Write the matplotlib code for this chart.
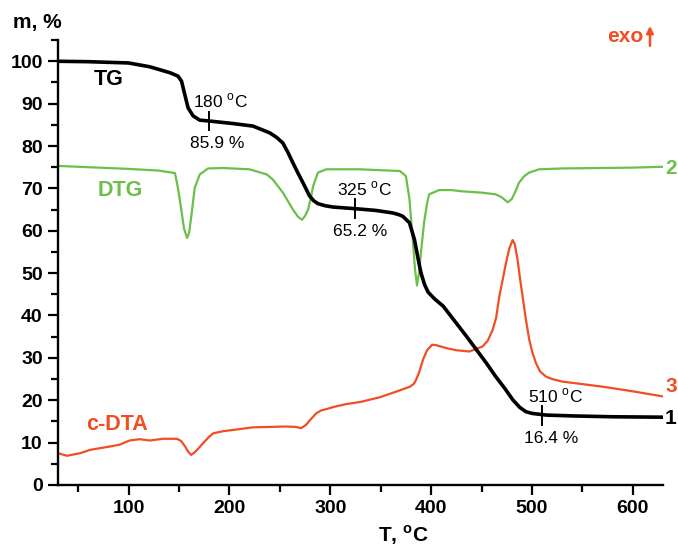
import numpy as np
import matplotlib.pyplot as plt
from matplotlib.ticker import MultipleLocator

plt.rcParams['font.family'] = ['Liberation Sans', 'DejaVu Sans']

# TG curve (mass, %)
tg_t = [30, 60, 100, 121, 141, 149, 152.5, 155.7, 159, 164, 170.6, 180, 203.6, 223.4, 240, 247,
        253, 258, 263, 268, 273, 279.5, 283.5, 287.7, 295, 302.6, 325, 345, 362, 368, 372,
        378.5, 383.5, 387, 390, 393.5, 397, 404, 412, 423, 435, 445, 455, 464, 473, 481,
        488, 494, 500, 514, 540, 580, 630]
tg_m = [100, 99.9, 99.6, 98.7, 97.3, 96.5, 95.3, 92.2, 89.0, 87.1, 86.1, 85.9, 85.3, 84.7, 83.1, 82.0,
        80.7, 78.5, 76.0, 73.6, 71.3, 68.2, 67.1, 66.4, 65.9, 65.6, 65.2, 64.8, 64.2, 63.8, 63.4,
        61.9, 57.9, 53.5, 50.0, 47.3, 45.5, 43.8, 42.2, 38.8, 35.1, 31.9, 28.7, 25.6, 22.8, 20.1,
        18.3, 17.3, 16.9, 16.5, 16.3, 16.1, 16.0]

# DTG curve (scaled)
dtg_t = [30, 60, 100, 130, 146, 149, 152.5, 155, 158, 160, 162.4, 165.6, 170.6, 178.8, 194, 220,
         237, 243, 253, 263, 268, 272, 275, 278, 280.5, 283, 287.7, 296, 329, 369, 375,
         378.5, 381.8, 384, 386, 388, 390, 393, 396, 398, 408, 420, 431, 450, 464, 470,
         476, 480, 484, 487, 492, 497, 507, 530, 600, 630]
dtg_v = [75.3, 75.0, 74.6, 74.2, 73.6, 70.1, 64.6, 60.5, 58.3, 59.5, 63.8, 70.1, 73.3, 74.7, 74.8, 74.5,
         73.3, 72.1, 69.0, 65.0, 63.3, 62.6, 63.5, 65.0, 67.5, 70.5, 73.7, 74.5, 74.5, 74.1, 72.9,
         67.5, 57.9, 51.0, 47.1, 50.0, 55.0, 61.9, 66.5, 68.6, 69.6, 69.6, 69.3, 69.0, 68.6, 67.9,
         66.7, 67.5, 69.5, 71.3, 72.8, 73.7, 74.5, 74.7, 74.9, 75.1]

# c-DTA curve (scaled)
dta_t = [30, 39, 52, 62, 82, 91, 101, 111, 121, 134, 148, 152, 156, 159, 162, 165, 168, 174, 180,
         184, 194, 204, 223, 256, 266, 271, 276, 281, 286, 291, 296, 303, 316, 330, 349, 365, 379,
         383, 385, 388, 392, 396, 401, 405, 415, 425, 438, 451, 456, 461, 464.5, 467.6, 471,
         474.2, 477.5, 480.8, 483, 485.7, 488, 490.7, 494, 497.3, 500.5, 503.9, 508, 513.8,
         520, 530, 547, 573, 600, 630]
dta_v = [7.5, 6.9, 7.5, 8.3, 9.1, 9.5, 10.5, 10.8, 10.5, 10.9, 10.9, 10.4, 9.1, 7.9, 7.1, 7.6, 8.3, 9.9, 11.4,
         12.2, 12.7, 13.0, 13.6, 13.8, 13.7, 13.4, 14.2, 15.6, 16.9, 17.6, 17.9, 18.4, 19.1, 19.6, 20.7, 22.0, 23.2,
         23.9, 24.8, 26.5, 29.6, 31.8, 33.1, 33.0, 32.3, 31.8, 31.5, 32.7, 34.0, 36.6, 39.5, 44.5, 48.5,
         52.4, 55.8, 57.8, 56.8, 53.2, 49.0, 44.5, 39.0, 34.3, 31.2, 28.8, 26.8, 25.6,
         25.0, 24.4, 23.9, 23.1, 22.1, 20.9]

# marked points on TG
mark_t = [180, 325, 510]
mark_m = [85.9, 65.2, 16.4]
mark_dx_up = [11, 9, 13]
mark_dx_dn = [8, 5, 9]

green = '#6cbf4a'
orange = '#f04e23'

fig = plt.figure(figsize=(6.78, 5.52), dpi=100)
ax = fig.add_axes([0.0855, 0.1214, 0.8925, 0.806])

kw = dict(solid_joinstyle='round', solid_capstyle='round')
ax.plot(dta_t, dta_v, color=orange, lw=1.6, zorder=2, **kw)
ax.plot(dtg_t, dtg_v, color=green, lw=1.6, zorder=2, **kw)
ax.plot(tg_t, tg_m, color='black', lw=2.6, zorder=3, **kw)

# tick marks and labels at marked points
for t, m, du, dd in zip(mark_t, mark_m, mark_dx_up, mark_dx_dn):
    ax.plot([t, t], [m - 2.2, m + 2.2], color='black', lw=1.4, zorder=4)
    ax.text(t + du, m + 4.7, f"{t} $^\\mathregular{{o}}$C", ha='center', va='center', fontsize=12.5)
    ax.text(t + dd, m - 5.4, f"{m} %", ha='center', va='center', fontsize=12.5)

ax.text(80, 95.8, "TG", fontsize=15.5, fontweight='bold', ha='center', va='center')
ax.text(92, 69.6, "DTG", fontsize=15.5, fontweight='bold', ha='center', va='center', color=green)
ax.text(89, 14.3, "c-DTA", fontsize=15.5, fontweight='bold', ha='center', va='center', color=orange)

ax.text(632, 15.8, "1", fontsize=15, fontweight='bold', va='center', clip_on=False)
ax.text(632, 74.8, "2", fontsize=15, fontweight='bold', va='center', color=green, clip_on=False)
ax.text(632, 23.3, "3", fontsize=15, fontweight='bold', va='center', color=orange, clip_on=False)

ax.text(610, 105.8, "exo", fontsize=15, fontweight='bold', color=orange, ha='right', va='center',
        clip_on=False)
ax.annotate('', xy=(617, 109.0), xytext=(617, 103.0), annotation_clip=False,
            arrowprops=dict(arrowstyle='-|>', color=orange, lw=1.8, mutation_scale=10))

ax.set_xlim(30, 630)
ax.set_ylim(0, 105)
ax.xaxis.set_major_locator(MultipleLocator(100))
ax.xaxis.set_minor_locator(MultipleLocator(50))
ax.yaxis.set_major_locator(MultipleLocator(10))
ax.yaxis.set_minor_locator(MultipleLocator(5))
ax.spines['top'].set_visible(False)
ax.spines['right'].set_visible(False)
for s in ['left', 'bottom']:
    ax.spines[s].set_linewidth(1.7)
ax.tick_params(which='major', direction='out', length=7, width=1.6, labelsize=14, pad=4)
ax.tick_params(which='minor', direction='out', length=5, width=1.6)
for lab in ax.get_xticklabels() + ax.get_yticklabels():
    lab.set_fontweight('bold')

ax.set_xlabel("T, $^\\mathregular{o}$C", fontsize=15, fontweight='bold', labelpad=4)
ax.xaxis.set_label_coords(0.57, -0.085)
fig.text(0.019, 0.96, "m, %", fontsize=15, fontweight='bold', va='center')

fig.savefig('out.png', dpi=100)
